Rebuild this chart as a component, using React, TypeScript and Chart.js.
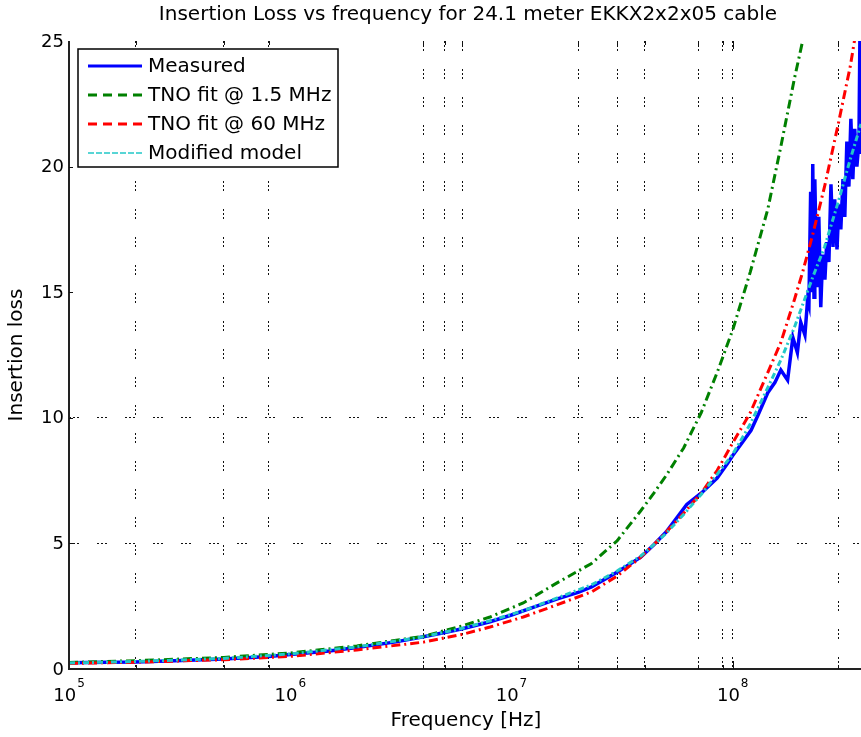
import React, { useEffect, useRef } from 'react';
import { Chart, registerables } from 'chart.js';

Chart.register(...registerables);

const TITLE = 'Insertion Loss vs frequency for 24.1 meter EKKX2x2x05 cable';
const X_LABEL = 'Frequency [Hz]';
const Y_LABEL = 'Insertion loss';
const SERIES_NAMES = ['Measured', 'TNO fit @ 1.5 MHz', 'TNO fit @ 60 MHz', 'Modified model'];

const X_MIN = 1e5;
const X_MAX = 3.8e8;
const Y_MIN = 0;
const Y_MAX = 25;
const X_LABEL_TICKS = [1e5, 1e6, 1e7, 1e8];
const Y_TICKS = [0, 5, 10, 15, 20, 25];
const X_GRID = [2e5, 5e5, 8e5, 4e6, 5e6, 6e6, 2e7, 3e7, 4e7, 7e7, 9e7, 1e8, 3e8];
const Y_GRID = [5, 10];

const FIT_FREQ = [1e5, 2e5, 5e5, 1e6, 2e6, 4e6, 6e6, 8e6, 1.13e7, 1.6e7, 2.3e7, 3e7, 3.84e7, 4.4e7, 5e7, 6e7, 7.2e7, 8.5e7, 1e8, 1.2e8, 1.44e8, 1.65e8, 1.9e8, 2.07e8, 2.3e8, 2.6e8, 3e8, 3.4e8, 3.8e8];
const TNO_15 = [0.26, 0.33, 0.46, 0.64, 0.92, 1.3, 1.72, 2.07, 2.63, 3.42, 4.2, 5.1, 6.3, 7.0, 7.7, 8.8, 10.2, 11.8, 13.5, 15.8, 18.3, 20.8, 23.5, 25.0, 27.6, null, null, null, null];
const TNO_60 = [0.22, 0.27, 0.37, 0.5, 0.76, 1.07, 1.38, 1.67, 2.07, 2.55, 3.07, 3.7, 4.45, 4.95, 5.45, 6.2, 7.0, 7.9, 9.0, 10.2, 11.8, 13.0, 14.7, 15.8, 17.3, 19.2, 21.7, 24.0, 26.6];
const MODIFIED = [0.24, 0.30, 0.42, 0.60, 0.88, 1.28, 1.62, 1.92, 2.32, 2.82, 3.35, 3.9, 4.5, 4.95, 5.4, 6.15, 6.95, 7.75, 8.55, 9.75, 11.2, 12.3, 13.6, 14.5, 15.6, 16.8, 18.6, 20.3, 21.7];

const MEAS_FREQ = [
  1e5, 1.5e5, 2e5, 3e5, 4e5, 5e5, 6e5, 8e5, 1e6, 1.5e6, 2e6, 3e6, 4e6, 5e6, 6e6, 8e6,
  1e7, 1.3e7, 1.6e7, 2e7, 2.3e7, 3e7, 3.84e7, 4.4e7, 5e7, 6.2e7, 7.2e7, 8.5e7, 9.5e7,
  1e8, 1.1e8, 1.21e8, 1.3e8, 1.44e8, 1.55e8, 1.65e8, 1.77e8, 1.87e8, 1.96e8, 2.03e8, 2.12e8, 2.18e8,
  2.21e8, 2.25e8, 2.28e8, 2.30e8, 2.33e8, 2.35e8, 2.40e8, 2.45e8, 2.50e8, 2.55e8, 2.61e8, 2.66e8,
  2.72e8, 2.78e8, 2.84e8, 2.89e8, 2.96e8, 3.02e8, 3.08e8, 3.15e8, 3.21e8, 3.28e8, 3.35e8, 3.42e8,
  3.49e8, 3.56e8, 3.64e8, 3.72e8, 3.76e8, 3.79e8,
];
const MEASURED = [
  0.25, 0.27, 0.28, 0.33, 0.37, 0.40, 0.44, 0.50, 0.58, 0.72, 0.86, 1.08, 1.28, 1.45, 1.60, 1.88,
  2.15, 2.50, 2.78, 3.05, 3.27, 3.85, 4.45, 4.95, 5.45, 6.55, 7.0, 7.6, 8.2,
  8.5, 9.0, 9.5, 10.1, 11.0, 11.4, 11.9, 11.5, 13.2, 12.6, 13.8, 13.3, 14.7,
  14.5, 19.0, 15.0, 20.1, 14.8, 19.5, 15.2, 18.0, 14.4, 16.5, 15.5, 17.0,
  16.2, 19.3, 16.8, 18.7, 16.7, 18.5, 17.5, 19.5, 18.0, 21.0, 19.2, 21.9,
  19.5, 21.5, 20.0, 21.0, 25.5, 20.5,
];

const FONT = '"DejaVu Sans", sans-serif';
const LEGEND_DASH = [[], [9, 6], [9, 6], [6, 2]];
const LEGEND_WIDTH = [3, 3, 3, 1.5];

function toPoints(xs: number[], ys: (number | null)[]) {
  return xs.map((x, i) => ({ x, y: ys[i] }));
}

const overlayPlugin = {
  id: 'matlabOverlay',
  afterDraw(chart: any) {
    const { ctx, chartArea, scales } = chart;
    const xs = scales.x;
    const ys = scales.y;
    const { left, right, top, bottom } = chartArea;
    ctx.save();

    // axis lines
    ctx.strokeStyle = '#222';
    ctx.lineWidth = 2;
    ctx.setLineDash([]);
    ctx.beginPath();
    ctx.moveTo(left, top);
    ctx.lineTo(left, bottom);
    ctx.moveTo(left - 1, bottom);
    ctx.lineTo(right, bottom);
    ctx.stroke();

    // inward tick marks
    ctx.lineWidth = 1;
    ctx.strokeStyle = '#111';
    ctx.beginPath();
    X_GRID.forEach((v) => {
      const px = Math.round(xs.getPixelForValue(v)) + 0.5;
      const len = v === 1e8 ? 8 : 4;
      ctx.moveTo(px, bottom);
      ctx.lineTo(px, bottom - len);
      ctx.moveTo(px, top);
      ctx.lineTo(px, top + len);
    });
    Y_TICKS.forEach((v) => {
      if (v === 0 || v === 25) return;
      const py = Math.round(ys.getPixelForValue(v)) + 0.5;
      ctx.moveTo(left, py);
      ctx.lineTo(left + 4, py);
    });
    ctx.stroke();

    ctx.fillStyle = '#000';
    // y tick labels
    ctx.font = `18px ${FONT}`;
    ctx.textAlign = 'right';
    ctx.textBaseline = 'middle';
    Y_TICKS.forEach((v) => {
      ctx.fillText(String(v), left - 5, ys.getPixelForValue(v) + 1);
    });

    // x tick labels 10^n
    ctx.textBaseline = 'alphabetic';
    ctx.textAlign = 'left';
    X_LABEL_TICKS.forEach((v) => {
      const exp = String(Math.round(Math.log10(v)));
      ctx.font = `18px ${FONT}`;
      const wb = ctx.measureText('10').width;
      ctx.font = `12px ${FONT}`;
      const we = ctx.measureText(exp).width;
      const px = xs.getPixelForValue(v);
      const x0 = px - (wb + we + 1) / 2;
      ctx.font = `18px ${FONT}`;
      ctx.fillText('10', x0, bottom + 32);
      ctx.font = `12px ${FONT}`;
      ctx.fillText(exp, x0 + wb + 1, bottom + 18);
    });

    // axis titles
    ctx.font = `20px ${FONT}`;
    ctx.textAlign = 'center';
    ctx.textBaseline = 'middle';
    ctx.fillText(X_LABEL, 466, bottom + 52);
    ctx.save();
    ctx.translate(17, (top + bottom) / 2);
    ctx.rotate(-Math.PI / 2);
    ctx.fillText(Y_LABEL, 0, 0);
    ctx.restore();

    // chart title
    ctx.font = `20px ${FONT}`;
    ctx.fillText(TITLE, 468, 15);

    // legend
    const lx = left + 9;
    const ly = top + 8;
    const lw = 260;
    const lh = 118;
    ctx.fillStyle = '#fff';
    ctx.fillRect(lx, ly, lw, lh);
    ctx.strokeStyle = '#000';
    ctx.lineWidth = 1.5;
    ctx.strokeRect(lx, ly, lw, lh);
    const datasets = chart.data.datasets;
    datasets.forEach((ds: any, i: number) => {
      const cy = ly + 17 + i * 29;
      ctx.strokeStyle = ds.borderColor;
      ctx.lineWidth = LEGEND_WIDTH[i];
      ctx.setLineDash(LEGEND_DASH[i]);
      ctx.beginPath();
      ctx.moveTo(lx + 10, cy);
      ctx.lineTo(lx + 64, cy);
      ctx.stroke();
      ctx.setLineDash([]);
      ctx.fillStyle = '#000';
      ctx.font = `20px ${FONT}`;
      ctx.textAlign = 'left';
      ctx.textBaseline = 'middle';
      ctx.fillText(ds.label, lx + 70, cy + 1);
    });
    ctx.restore();
  },
};

export default function App() {
  const canvasRef = useRef<HTMLCanvasElement | null>(null);

  useEffect(() => {
    const canvas = canvasRef.current;
    if (!canvas) return;
    const gridDash = [2, 2, 2, 2, 2, 18];
    const chart = new Chart(canvas, {
      type: 'line',
      data: {
        datasets: [
          {
            label: SERIES_NAMES[0],
            data: toPoints(MEAS_FREQ, MEASURED),
            borderColor: '#0000FF',
            borderWidth: 3.5,
            pointRadius: 0,
            order: 4,
          },
          {
            label: SERIES_NAMES[1],
            data: toPoints(FIT_FREQ, TNO_15),
            borderColor: '#008000',
            borderWidth: 3,
            borderDash: [9, 4, 2, 4],
            pointRadius: 0,
            order: 3,
          },
          {
            label: SERIES_NAMES[2],
            data: toPoints(FIT_FREQ, TNO_60),
            borderColor: '#FF0000',
            borderWidth: 3,
            borderDash: [9, 4, 2, 4],
            pointRadius: 0,
            order: 2,
          },
          {
            label: SERIES_NAMES[3],
            data: toPoints(FIT_FREQ, MODIFIED),
            borderColor: '#22C8C8',
            borderWidth: 3,
            borderDash: [6, 3, 2, 3],
            pointRadius: 0,
            order: 1,
          },
        ],
      },
      options: {
        animation: false,
        responsive: false,
        events: [],
        layout: { padding: { left: 69, top: 41, right: 0, bottom: 68 } },
        plugins: {
          legend: { display: false },
          title: { display: false },
          tooltip: { enabled: false },
        },
        elements: { line: { tension: 0 } },
        scales: {
          x: {
            type: 'logarithmic',
            min: X_MIN,
            max: X_MAX,
            afterBuildTicks: (scale: any) => {
              scale.ticks = X_GRID.map((v) => ({ value: v }));
            },
            ticks: { display: false },
            grid: { drawTicks: false, color: '#111', lineWidth: 1 },
            border: { display: false, dash: gridDash },
          },
          y: {
            min: Y_MIN,
            max: Y_MAX,
            afterBuildTicks: (scale: any) => {
              scale.ticks = Y_GRID.map((v) => ({ value: v }));
            },
            ticks: { display: false },
            grid: { drawTicks: false, color: '#111', lineWidth: 1 },
            border: { display: false, dash: gridDash },
          },
        },
      },
      plugins: [overlayPlugin],
    } as any);
    return () => chart.destroy();
  }, []);

  return (
    <div style={{ position: 'absolute', left: 0, top: 0, width: 861, height: 737, background: '#fff' }}>
      <canvas ref={canvasRef} width={861} height={737} />
    </div>
  );
}
